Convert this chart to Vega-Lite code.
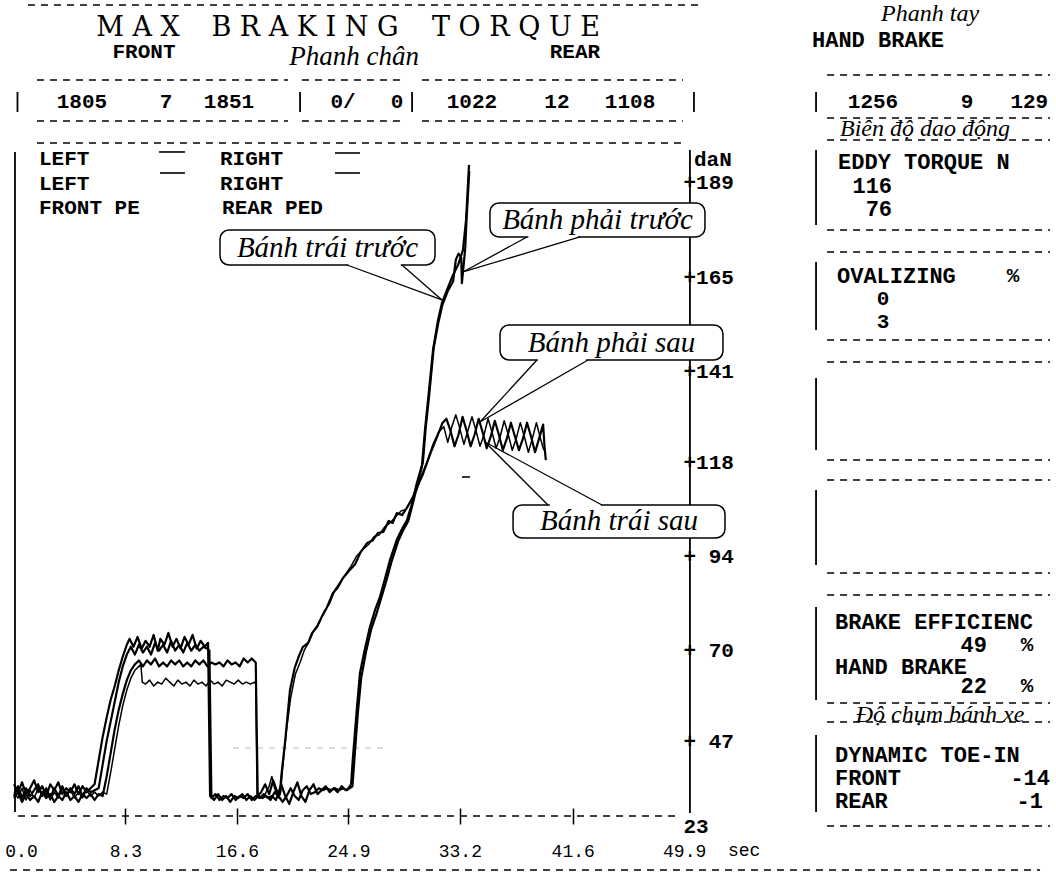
{
"$schema":"https://vega.github.io/schema/vega-lite/v6.json",
"width":1056,"height":874,"autosize":{"type":"none"},"padding":0,"background":"white",
"config":{"view":{"stroke":null}},
"datasets":{
"FL":[{"t":0,"v":36},{"t":0.3,"v":34},{"t":0.6,"v":36.5},{"t":0.9,"v":33.5},{"t":1.2,"v":35},{"t":1.5,"v":37},{"t":1.8,"v":34},{"t":2.1,"v":35.5},{"t":2.4,"v":33},{"t":2.7,"v":36},{"t":3.0,"v":34.5},{"t":3.3,"v":36.5},{"t":3.6,"v":33.5},{"t":3.9,"v":35},{"t":4.2,"v":34},{"t":4.5,"v":36},{"t":4.8,"v":33.5},{"t":5.1,"v":35.5},{"t":5.4,"v":34},{"t":5.7,"v":35},{"t":6.0,"v":36},{"t":6.3,"v":42},{"t":6.6,"v":48},{"t":6.9,"v":53},{"t":7.2,"v":57.5},{"t":7.5,"v":61},{"t":7.8,"v":65},{"t":8.1,"v":68.5},{"t":8.4,"v":71.5},{"t":8.6,"v":73},{"t":8.9,"v":71},{"t":9.2,"v":73.5},{"t":9.5,"v":70.5},{"t":9.8,"v":72.5},{"t":10.1,"v":71},{"t":10.4,"v":74},{"t":10.7,"v":70},{"t":10.9,"v":73},{"t":11.2,"v":71.5},{"t":11.5,"v":74.5},{"t":11.8,"v":71},{"t":12.1,"v":73},{"t":12.4,"v":70.5},{"t":12.7,"v":73.5},{"t":13.0,"v":71.5},{"t":13.3,"v":74},{"t":13.6,"v":70.5},{"t":13.9,"v":72.5},{"t":14.2,"v":71},{"t":14.45,"v":72},{"t":14.6,"v":33},{"t":14.9,"v":32},{"t":15.2,"v":33.5},{"t":15.5,"v":32},{"t":15.8,"v":33},{"t":16.1,"v":31.5},{"t":16.4,"v":33},{"t":16.7,"v":32.5},{"t":17.0,"v":33.5},{"t":17.3,"v":32},{"t":17.6,"v":33},{"t":17.9,"v":32},{"t":18.2,"v":33},{"t":18.5,"v":32.5},{"t":18.8,"v":33},{"t":19.1,"v":32},{"t":19.4,"v":34},{"t":19.7,"v":33},{"t":20.0,"v":31.5},{"t":20.3,"v":33},{"t":20.6,"v":35},{"t":20.9,"v":33},{"t":21.2,"v":32},{"t":21.5,"v":34.5},{"t":21.8,"v":35.5},{"t":22.1,"v":33.5},{"t":22.4,"v":34},{"t":22.7,"v":35},{"t":23.0,"v":34.5},{"t":23.3,"v":35},{"t":23.6,"v":34.5},{"t":23.9,"v":35},{"t":24.2,"v":34.5},{"t":24.5,"v":35},{"t":24.8,"v":34.5},{"t":25.1,"v":36},{"t":25.24,"v":43},{"t":25.54,"v":55.7},{"t":25.76,"v":64.3},{"t":26.1,"v":70},{"t":26.5,"v":76},{"t":26.9,"v":80.5},{"t":27.25,"v":83.7},{"t":27.6,"v":88},{"t":28.0,"v":93.1},{"t":28.5,"v":98.2},{"t":28.9,"v":101},{"t":29.26,"v":103.2},{"t":29.6,"v":107},{"t":30.0,"v":112.7},{"t":30.38,"v":117.2},{"t":30.6,"v":126.1},{"t":30.83,"v":133.8},{"t":31.2,"v":146.5},{"t":31.57,"v":154.1},{"t":31.87,"v":158.5},{"t":32.24,"v":161.8},{"t":32.69,"v":165.6},{"t":33.06,"v":168.1},{"t":33.43,"v":172},{"t":33.66,"v":179.6},{"t":33.88,"v":193.6}],
"FR":[{"t":0,"v":33},{"t":0.3,"v":35.5},{"t":0.6,"v":32.5},{"t":0.9,"v":35},{"t":1.2,"v":33},{"t":1.5,"v":34.5},{"t":1.8,"v":36},{"t":2.1,"v":33},{"t":2.4,"v":35},{"t":2.7,"v":32.5},{"t":3.0,"v":35},{"t":3.3,"v":33},{"t":3.6,"v":35.5},{"t":3.9,"v":33},{"t":4.2,"v":35},{"t":4.5,"v":33.5},{"t":4.8,"v":35.5},{"t":5.1,"v":33},{"t":5.4,"v":35},{"t":5.7,"v":34},{"t":6.0,"v":34.5},{"t":6.3,"v":35},{"t":6.6,"v":41},{"t":6.9,"v":47},{"t":7.2,"v":52},{"t":7.5,"v":57},{"t":7.8,"v":62},{"t":8.1,"v":66},{"t":8.4,"v":69},{"t":8.7,"v":71},{"t":9.0,"v":69},{"t":9.3,"v":71.5},{"t":9.6,"v":69.5},{"t":9.9,"v":71},{"t":10.2,"v":69},{"t":10.5,"v":72},{"t":10.8,"v":70},{"t":11.1,"v":71.5},{"t":11.4,"v":69.5},{"t":11.7,"v":72.5},{"t":12.0,"v":70},{"t":12.3,"v":71.5},{"t":12.6,"v":69.5},{"t":12.9,"v":72},{"t":13.2,"v":70},{"t":13.5,"v":71.5},{"t":13.8,"v":70},{"t":14.1,"v":71},{"t":14.4,"v":70.5},{"t":14.55,"v":70},{"t":14.7,"v":32.5},{"t":15.0,"v":33.5},{"t":15.3,"v":32},{"t":15.6,"v":33},{"t":15.9,"v":32.5},{"t":16.2,"v":33.5},{"t":16.5,"v":32},{"t":16.8,"v":33},{"t":17.1,"v":32.5},{"t":17.4,"v":33.5},{"t":17.7,"v":32},{"t":18.0,"v":33},{"t":18.3,"v":32.5},{"t":18.6,"v":33.5},{"t":18.9,"v":32.5},{"t":19.2,"v":33},{"t":19.5,"v":32},{"t":19.9,"v":36},{"t":20.2,"v":33},{"t":20.5,"v":31},{"t":20.8,"v":34},{"t":21.1,"v":36.5},{"t":21.4,"v":33},{"t":21.7,"v":31.5},{"t":22.0,"v":34.5},{"t":22.3,"v":36},{"t":22.6,"v":33.5},{"t":22.9,"v":34.5},{"t":23.2,"v":35.5},{"t":23.5,"v":34},{"t":23.8,"v":35},{"t":24.1,"v":34},{"t":24.4,"v":35.5},{"t":24.7,"v":34.5},{"t":25.0,"v":35},{"t":25.2,"v":35.5},{"t":25.34,"v":42},{"t":25.6,"v":54},{"t":25.85,"v":63},{"t":26.2,"v":69.5},{"t":26.6,"v":75.5},{"t":27.0,"v":79.5},{"t":27.35,"v":83.5},{"t":27.7,"v":87.5},{"t":28.1,"v":92.5},{"t":28.6,"v":97.8},{"t":29.0,"v":100.8},{"t":29.36,"v":103},{"t":29.7,"v":107.5},{"t":30.1,"v":113},{"t":30.45,"v":118},{"t":30.65,"v":126.5},{"t":30.9,"v":134.5},{"t":31.25,"v":147},{"t":31.6,"v":153.5},{"t":31.9,"v":158},{"t":32.3,"v":161.5},{"t":32.7,"v":164},{"t":32.9,"v":169.5},{"t":33.1,"v":171},{"t":33.3,"v":170},{"t":33.35,"v":163.5},{"t":33.45,"v":167},{"t":33.6,"v":172.5},{"t":33.7,"v":180},{"t":33.9,"v":192}],
"RR":[{"t":0,"v":32.5},{"t":0.3,"v":34},{"t":0.6,"v":31.5},{"t":0.9,"v":33.5},{"t":1.2,"v":32},{"t":1.5,"v":33},{"t":1.8,"v":31.5},{"t":2.1,"v":34},{"t":2.4,"v":32.5},{"t":2.7,"v":33.5},{"t":3.0,"v":31.5},{"t":3.3,"v":33},{"t":3.6,"v":32},{"t":3.9,"v":34},{"t":4.2,"v":32},{"t":4.5,"v":33},{"t":4.8,"v":31.5},{"t":5.1,"v":33.5},{"t":5.4,"v":32.5},{"t":5.7,"v":33.5},{"t":6.0,"v":32},{"t":6.3,"v":33.5},{"t":6.6,"v":33},{"t":6.9,"v":38},{"t":7.2,"v":44},{"t":7.5,"v":50},{"t":7.8,"v":55},{"t":8.1,"v":59},{"t":8.4,"v":62.5},{"t":8.7,"v":65},{"t":9.0,"v":66.5},{"t":9.3,"v":67.5},{"t":9.6,"v":66},{"t":9.9,"v":67.5},{"t":10.2,"v":66.5},{"t":10.5,"v":68},{"t":10.8,"v":66},{"t":11.1,"v":67},{"t":11.4,"v":66},{"t":11.7,"v":67.5},{"t":12.0,"v":66.5},{"t":12.3,"v":67.5},{"t":12.6,"v":66},{"t":12.9,"v":67},{"t":13.2,"v":66},{"t":13.5,"v":67.5},{"t":13.8,"v":66.5},{"t":14.1,"v":67.5},{"t":14.4,"v":66},{"t":14.7,"v":67},{"t":15.0,"v":66.5},{"t":15.3,"v":67},{"t":15.6,"v":66},{"t":15.9,"v":67.5},{"t":16.2,"v":66.5},{"t":16.5,"v":67},{"t":16.8,"v":66},{"t":17.1,"v":68},{"t":17.4,"v":67},{"t":17.7,"v":68},{"t":18.0,"v":67},{"t":18.15,"v":33},{"t":18.4,"v":34},{"t":18.7,"v":36},{"t":19.0,"v":33.5},{"t":19.3,"v":37},{"t":19.6,"v":34},{"t":19.8,"v":33.5},{"t":19.9,"v":38},{"t":20.2,"v":47.3},{"t":20.55,"v":60},{"t":20.9,"v":65.6},{"t":21.2,"v":68.5},{"t":21.5,"v":70.9},{"t":21.9,"v":72},{"t":22.2,"v":74.5},{"t":22.56,"v":76},{"t":22.9,"v":78.5},{"t":23.3,"v":81},{"t":23.75,"v":84.7},{"t":24.1,"v":86},{"t":24.5,"v":88.5},{"t":25.0,"v":90.5},{"t":25.4,"v":92},{"t":25.8,"v":95},{"t":26.3,"v":97.4},{"t":26.7,"v":98},{"t":27.1,"v":100},{"t":27.5,"v":100.2},{"t":27.9,"v":103},{"t":28.2,"v":102.5},{"t":28.5,"v":105},{"t":28.9,"v":104.5},{"t":29.3,"v":106.6},{"t":29.7,"v":109},{"t":30.0,"v":111.6},{"t":30.4,"v":114.5},{"t":30.75,"v":117.8},{"t":31.1,"v":121},{"t":31.5,"v":124.4},{"t":31.9,"v":127.9},{"t":32.2,"v":129},{"t":32.5,"v":126},{"t":32.8,"v":122},{"t":33.1,"v":125},{"t":33.4,"v":129.5},{"t":33.7,"v":126},{"t":34.0,"v":122},{"t":34.3,"v":125},{"t":34.6,"v":129},{"t":34.9,"v":125.5},{"t":35.2,"v":121.5},{"t":35.5,"v":124.5},{"t":35.8,"v":128.5},{"t":36.1,"v":125},{"t":36.4,"v":121},{"t":36.7,"v":124},{"t":37.0,"v":128},{"t":37.3,"v":124.5},{"t":37.6,"v":121},{"t":37.9,"v":124},{"t":38.2,"v":128},{"t":38.5,"v":124.5},{"t":38.8,"v":120.5},{"t":39.1,"v":124},{"t":39.4,"v":127.5},{"t":39.5,"v":122},{"t":39.6,"v":118.5}],
"RL":[{"t":0,"v":34},{"t":0.3,"v":32.5},{"t":0.6,"v":35},{"t":0.9,"v":32},{"t":1.2,"v":34.5},{"t":1.5,"v":32.5},{"t":1.8,"v":35},{"t":2.1,"v":33},{"t":2.4,"v":34.5},{"t":2.7,"v":32},{"t":3.0,"v":34},{"t":3.3,"v":32.5},{"t":3.6,"v":35},{"t":3.9,"v":33},{"t":4.2,"v":34.5},{"t":4.5,"v":32.5},{"t":4.8,"v":34},{"t":5.1,"v":32.5},{"t":5.4,"v":34.5},{"t":5.7,"v":33},{"t":6.0,"v":34},{"t":6.3,"v":33},{"t":6.6,"v":34},{"t":6.9,"v":33.5},{"t":7.2,"v":39},{"t":7.5,"v":45},{"t":7.8,"v":51},{"t":8.1,"v":56},{"t":8.4,"v":60},{"t":8.7,"v":63},{"t":9.0,"v":65},{"t":9.3,"v":66},{"t":9.45,"v":66.5},{"t":9.55,"v":62},{"t":9.8,"v":61.5},{"t":10.1,"v":62.5},{"t":10.4,"v":61},{"t":10.7,"v":62},{"t":11.0,"v":61.5},{"t":11.3,"v":63},{"t":11.6,"v":62},{"t":11.9,"v":61},{"t":12.2,"v":62.5},{"t":12.5,"v":61.5},{"t":12.8,"v":62},{"t":13.1,"v":61},{"t":13.4,"v":62.5},{"t":13.7,"v":61.5},{"t":14.0,"v":62},{"t":14.3,"v":61},{"t":14.6,"v":62.5},{"t":14.9,"v":61.5},{"t":15.2,"v":62},{"t":15.5,"v":61},{"t":15.8,"v":62.5},{"t":16.1,"v":62},{"t":16.4,"v":61.5},{"t":16.7,"v":62.5},{"t":17.0,"v":61.5},{"t":17.3,"v":62},{"t":17.6,"v":61.5},{"t":17.9,"v":62},{"t":18.0,"v":61.5},{"t":18.1,"v":33},{"t":18.4,"v":32.5},{"t":18.7,"v":33.5},{"t":19.0,"v":35.5},{"t":19.2,"v":38},{"t":19.4,"v":35},{"t":19.7,"v":32.5},{"t":19.85,"v":34},{"t":20.0,"v":40},{"t":20.3,"v":50},{"t":20.6,"v":58},{"t":20.95,"v":64},{"t":21.3,"v":67},{"t":21.6,"v":70},{"t":22.0,"v":72.5},{"t":22.3,"v":75},{"t":22.7,"v":77},{"t":23.1,"v":80},{"t":23.5,"v":82},{"t":23.9,"v":85.5},{"t":24.3,"v":87.5},{"t":24.7,"v":89.5},{"t":25.1,"v":91.5},{"t":25.5,"v":94},{"t":25.9,"v":95.5},{"t":26.4,"v":97},{"t":26.8,"v":99},{"t":27.2,"v":99.5},{"t":27.6,"v":101.5},{"t":28.0,"v":102.5},{"t":28.4,"v":104},{"t":28.8,"v":105.5},{"t":29.2,"v":106},{"t":29.6,"v":108.5},{"t":30.0,"v":111},{"t":30.4,"v":115},{"t":30.8,"v":118.5},{"t":31.2,"v":122.5},{"t":31.6,"v":125.5},{"t":32.0,"v":127},{"t":32.3,"v":123},{"t":32.6,"v":127},{"t":32.9,"v":130},{"t":33.2,"v":126.5},{"t":33.5,"v":122.5},{"t":33.8,"v":126},{"t":34.1,"v":129.5},{"t":34.4,"v":126},{"t":34.7,"v":122},{"t":35.0,"v":125},{"t":35.3,"v":129},{"t":35.6,"v":125.5},{"t":35.9,"v":121.5},{"t":36.2,"v":124.5},{"t":36.5,"v":128.5},{"t":36.8,"v":125},{"t":37.1,"v":121},{"t":37.4,"v":124},{"t":37.7,"v":128},{"t":38.0,"v":124.5},{"t":38.3,"v":120.5},{"t":38.6,"v":124},{"t":38.9,"v":128},{"t":39.2,"v":124},{"t":39.45,"v":121}],
"dashes":[{"t":1.04,"t2":51.08,"v":234.29},{"t":1.71,"t2":20.40,"v":215.21},{"t":21.44,"t2":29.19,"v":215.21},{"t":30.38,"t2":49.81,"v":215.21},{"t":1.71,"t2":20.40,"v":204.78},{"t":21.44,"t2":29.19,"v":204.78},{"t":30.38,"t2":49.81,"v":204.78},{"t":1.71,"t2":49.81,"v":199.18},{"t":0.30,"t2":49.59,"v":27.93},{"t":-0.30,"t2":76.40,"v":14.19},{"t":60.54,"t2":77.14,"v":216.48},{"t":60.54,"t2":77.14,"v":205.54},{"t":60.54,"t2":77.14,"v":199.94},{"t":60.54,"t2":77.14,"v":177.04},{"t":60.54,"t2":77.14,"v":171.44},{"t":60.54,"t2":77.14,"v":149.05},{"t":60.54,"t2":77.14,"v":143.45},{"t":60.54,"t2":77.14,"v":118.52},{"t":60.54,"t2":77.14,"v":113.43},{"t":60.54,"t2":77.14,"v":89.76},{"t":60.54,"t2":77.14,"v":84.17},{"t":60.54,"t2":77.14,"v":56.68},{"t":60.54,"t2":77.14,"v":51.85},{"t":60.54,"t2":77.14,"v":25.39}],
"faint":[{"t":16.31,"t2":27.48,"v":45.23}],
"vrules":[{"t":0.074,"v":196.89,"v2":28.95},{"t":50.33,"v":197.40,"v2":28.69},{"t":0.26,"v":212.15,"v2":207.07},{"t":21.30,"v":212.15,"v2":207.07},{"t":29.64,"v":212.15,"v2":207.07},{"t":50.63,"v":212.15,"v2":207.07},{"t":59.72,"v":212.15,"v2":207.07},{"t":59.72,"v":197.40,"v2":178.31},{"t":59.72,"v":168.90,"v2":151.60},{"t":59.72,"v":139.38,"v2":121.06},{"t":59.72,"v":110.88,"v2":91.80},{"t":59.72,"v":81.11,"v2":57.45},{"t":59.72,"v":48.54,"v2":28.95}],
"hrules":[{"t":10.80,"t2":12.73,"v":196.89},{"t":10.87,"t2":12.73,"v":191.54},{"t":23.90,"t2":25.76,"v":196.63},{"t":23.90,"t2":25.76,"v":191.54},{"t":33.36,"t2":33.95,"v":114.19}],
"bubbles":[{"t":15.34,"t2":31.35,"v":168.13,"v2":177.04},{"t":35.44,"t2":51.45,"v":175.26,"v2":183.91},{"t":36.19,"t2":52.79,"v":143.96,"v2":152.87},{"t":37.16,"t2":52.94,"v":98.67,"v2":107.07}],
"gaps":[{"t":24.9,"t2":28.8,"v":168.13},{"t":38.3,"t2":42.0,"v":175.26},{"t":39.0,"t2":42.6,"v":143.96},{"t":39.9,"t2":43.7,"v":107.07}],
"pointers":[{"t":24.80,"v":168.13,"t2":31.87,"v2":159.23},{"t":28.89,"v":168.13,"t2":31.87,"v2":159.23},{"t":38.20,"v":175.26,"t2":33.43,"v2":166.35},{"t":42.14,"v":175.26,"t2":33.43,"v2":166.35},{"t":38.94,"v":143.96,"t2":34.70,"v2":128.19},{"t":42.74,"v":143.96,"t2":34.70,"v2":128.19},{"t":39.76,"v":107.07,"t2":35.07,"v2":123.10},{"t":43.78,"v":107.07,"t2":35.07,"v2":123.10}],
"title":[{"txt":"M A X","t":9.23,"v":228.44},{"txt":"B R A K I N G","t":21.67,"v":228.44},{"txt":"T O R Q U E","t":37.38,"v":228.44}],
"italic":[{"txt":"Phanh chân","t":25.32,"v":221.06}],
"italicS":[{"txt":"Phanh tay","t":68.21,"v":232.0},{"txt":"Biên độ dao động","t":67.83,"v":202.74},{"txt":"Độ chụm bánh xe","t":68.95,"v":53.6}],
"bubbletext":[{"txt":"Bánh trái trước","t":23.34,"v":172.46},{"txt":"Bánh phải trước","t":43.45,"v":179.59},{"txt":"Bánh phải sau","t":44.49,"v":148.41},{"txt":"Bánh trái sau","t":45.05,"v":102.87}],
"tl":[{"txt":"LEFT","t":1.86,"v":195.1},{"txt":"RIGHT","t":15.34,"v":195.1},{"txt":"LEFT","t":1.86,"v":188.75},{"txt":"RIGHT","t":15.34,"v":188.75},{"txt":"FRONT PE","t":1.86,"v":182.6},{"txt":"REAR PED","t":15.49,"v":182.6},{"txt":"daN","t":50.63,"v":194.85}],
"tlr":[{"txt":"HAND BRAKE","t":59.42,"v":225.39},{"txt":"EDDY TORQUE N","t":61.36,"v":194.34},{"txt":"OVALIZING","t":61.28,"v":165.34},{"txt":"BRAKE EFFICIENC","t":61.13,"v":77.30},{"txt":"HAND BRAKE","t":61.13,"v":65.84},{"txt":"DYNAMIC TOE-IN","t":61.13,"v":43.45},{"txt":"FRONT","t":61.13,"v":37.60},{"txt":"REAR","t":61.13,"v":31.75}],
"tr":[{"txt":"116","t":65.38,"v":188.24},{"txt":"76","t":65.38,"v":182.38},{"txt":"49","t":72.45,"v":71.44},{"txt":"22","t":72.45,"v":60.9},{"txt":"-14","t":77.14,"v":37.60},{"txt":"-1","t":76.62,"v":31.75}],
"tc":[{"txt":"FRONT","t":9.68,"v":222.33},{"txt":"REAR","t":41.77,"v":222.33},{"txt":"1805","t":5.06,"v":209.61},{"txt":"7","t":11.32,"v":209.61},{"txt":"1851","t":16.01,"v":209.61},{"txt":"0/","t":24.50,"v":209.61},{"txt":"0","t":28.52,"v":209.61},{"txt":"1022","t":34.10,"v":209.61},{"txt":"12","t":40.43,"v":209.61},{"txt":"1108","t":45.87,"v":209.61},{"txt":"1256","t":63.96,"v":209.61},{"txt":"9","t":70.96,"v":209.61},{"txt":"129","t":75.6,"v":209.61},{"txt":"%","t":74.39,"v":165.34},{"txt":"0","t":64.71,"v":159.48},{"txt":"3","t":64.71,"v":153.63},{"txt":"%","t":75.43,"v":71.44},{"txt":"%","t":75.43,"v":60.9}],
"unit":[{"txt":"sec","t":53.16,"v":19.03}]
},
"encoding":{
"x":{"field":"t","type":"quantitative","scale":{"domain":[-1.042,77.587],"nice":false,"zero":false},
"axis":{"orient":"bottom","offset":-66,"values":[0,8.3,16.6,24.9,33.2,41.6,49.9],"domain":false,"grid":false,"tickSize":16,"tickWidth":1.5,"tickColor":"black","tickOpacity":{"condition":{"test":"datum.value == 0 || datum.value == 49.9","value":0},"value":1},"labelExpr":"format(datum.value, '.1f')","labelFont":"Liberation Mono","labelFontSize":18,"labelColor":"black","labelPadding":18,"labelOffset":{"condition":{"test":"datum.value == 0","value":7},"value":0},"labelFlush":false,"labelOverlap":false,"title":null}},
"y":{"field":"v","type":"quantitative","scale":{"domain":[13.17,235.56],"nice":false,"zero":false},
"axis":{"orient":"right","offset":-366,"values":[189,165,141,118,94,70,47,23],"domain":false,"ticks":false,"tickSize":0,"grid":false,"labelAlign":"left","labelBaseline":"middle","labelPadding":-7,"labelExpr":"datum.value == 23 ? '\u00a023' : (datum.value < 100 ? '+ ' + datum.value : '+' + datum.value)","labelFont":"Liberation Mono","labelFontWeight":"bold","labelFontSize":21,"labelColor":"black","labelOffset":{"condition":{"test":"datum.value == 23","value":-9},"value":0},"labelFlush":false,"labelOverlap":false,"title":null}}
},
"layer":[
{"data":{"name":"dashes"},"mark":{"type":"rule","color":"black","strokeWidth":1.6,"strokeDash":[7,6]},"encoding":{"x2":{"field":"t2"}}},
{"data":{"name":"faint"},"mark":{"type":"rule","color":"#bbbbbb","strokeWidth":1,"strokeDash":[6,6]},"encoding":{"x2":{"field":"t2"}}},
{"data":{"name":"vrules"},"mark":{"type":"rule","color":"black","strokeWidth":1.8},"encoding":{"y2":{"field":"v2"}}},
{"data":{"name":"hrules"},"mark":{"type":"rule","color":"black","strokeWidth":1.6},"encoding":{"x2":{"field":"t2"}}},
{"data":{"name":"RL"},"mark":{"type":"line","color":"black","strokeWidth":1.5,"strokeJoin":"round"}},
{"data":{"name":"RR"},"mark":{"type":"line","color":"black","strokeWidth":2.2,"strokeJoin":"round"}},
{"data":{"name":"FR"},"mark":{"type":"line","color":"black","strokeWidth":2.2,"strokeJoin":"round"}},
{"data":{"name":"FL"},"mark":{"type":"line","color":"black","strokeWidth":2.2,"strokeJoin":"round"}},
{"data":{"name":"bubbles"},"mark":{"type":"rect","fill":"white","stroke":"black","strokeWidth":1.5,"cornerRadius":9},"encoding":{"x2":{"field":"t2"},"y2":{"field":"v2"}}},
{"data":{"name":"gaps"},"mark":{"type":"rule","color":"white","strokeWidth":3},"encoding":{"x2":{"field":"t2"}}},
{"data":{"name":"pointers"},"mark":{"type":"rule","color":"black","strokeWidth":1.3},"encoding":{"x2":{"field":"t2"},"y2":{"field":"v2"}}},
{"data":{"name":"title"},"mark":{"type":"text","font":"DejaVu Serif","fontSize":27,"color":"black"},"encoding":{"text":{"field":"txt"}}},
{"data":{"name":"italic"},"mark":{"type":"text","font":"Liberation Serif","fontStyle":"italic","fontSize":27,"color":"black"},"encoding":{"text":{"field":"txt"}}},
{"data":{"name":"italicS"},"mark":{"type":"text","font":"Liberation Serif","fontStyle":"italic","fontSize":24,"color":"black"},"encoding":{"text":{"field":"txt"}}},
{"data":{"name":"bubbletext"},"mark":{"type":"text","font":"Liberation Serif","fontStyle":"italic","fontSize":29,"color":"black"},"encoding":{"text":{"field":"txt"}}},
{"data":{"name":"tl"},"mark":{"type":"text","align":"left","font":"Liberation Mono","fontWeight":"bold","fontSize":21,"color":"black"},"encoding":{"text":{"field":"txt"}}},
{"data":{"name":"tlr"},"mark":{"type":"text","align":"left","font":"Liberation Mono","fontWeight":"bold","fontSize":22,"color":"black"},"encoding":{"text":{"field":"txt"}}},
{"data":{"name":"tr"},"mark":{"type":"text","align":"right","font":"Liberation Mono","fontWeight":"bold","fontSize":22,"color":"black"},"encoding":{"text":{"field":"txt"}}},
{"data":{"name":"tc"},"mark":{"type":"text","align":"center","font":"Liberation Mono","fontWeight":"bold","fontSize":21,"color":"black"},"encoding":{"text":{"field":"txt"}}},
{"data":{"name":"unit"},"mark":{"type":"text","align":"left","font":"Liberation Mono","fontSize":18,"color":"black"},"encoding":{"text":{"field":"txt"}}}
]
}
